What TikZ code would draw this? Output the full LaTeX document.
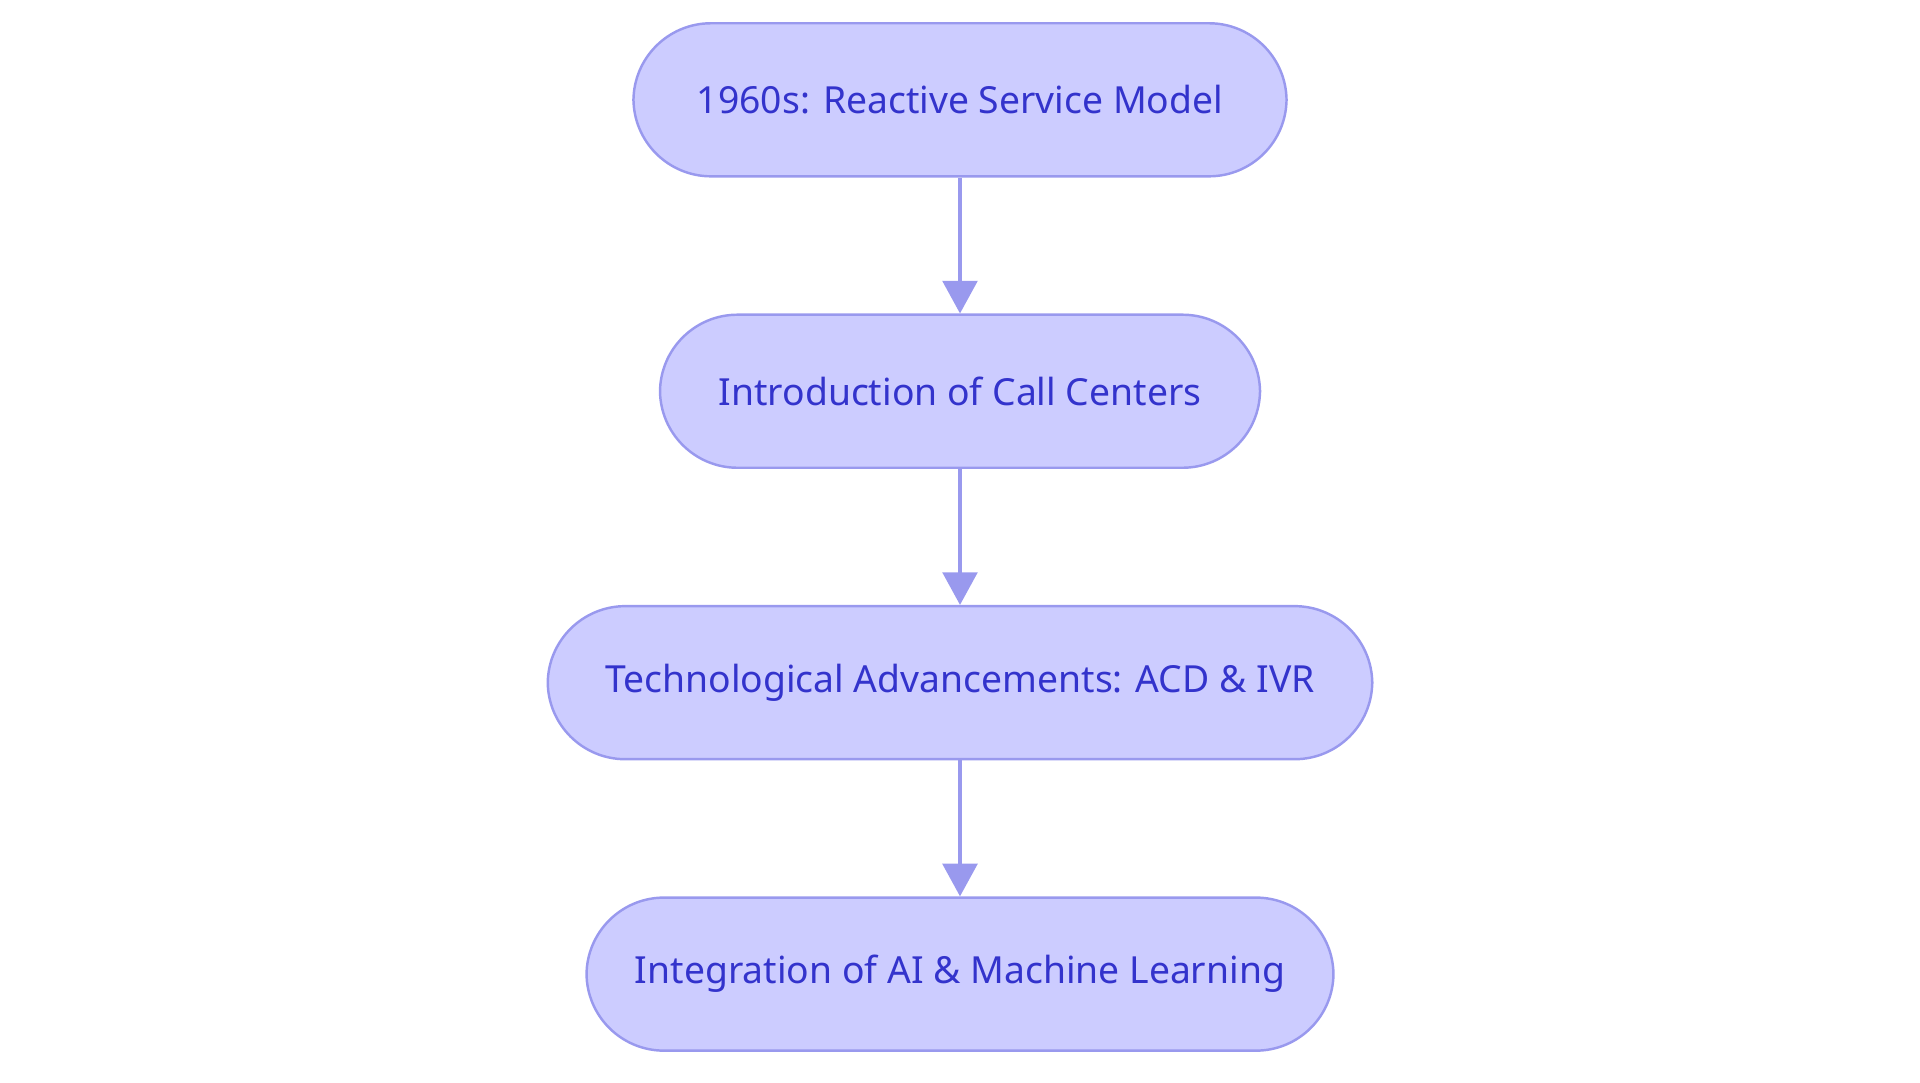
\documentclass[tikz,border=0pt]{standalone}
\usepackage{fontspec}
\setmainfont{Noto Sans}
\definecolor{StepFill}{RGB}{204, 204, 255}
\definecolor{StepLine}{RGB}{153, 153, 238}
\definecolor{StepText}{RGB}{51, 51, 204}
\usetikzlibrary{arrows.meta, positioning}

\begin{document}
\begin{tikzpicture}[
        x=0.03cm, y=0.03cm,
        node distance=3.33cm,
        step/.style={rectangle, draw=StepLine, fill=StepFill, line width=0.06cm, text=StepText,
            rounded corners=1.9cm, minimum height=3.75cm, minimum width=#1, font=\fontsize{26}{31}\selectfont},
        line/.style={draw=StepLine, line width=0.09cm, -{Triangle[length=0.8cm, width=0.85cm]}}
    ]
        \useasboundingbox (0,0) rectangle (1568,884);
        \node [step=16cm] (s1) at (784,802.5) {1960s: Reactive Service Model};
        \node [step=14.7cm, below=of s1] (s2) {Introduction of Call Centers};
        \node [step=20.2cm, below=of s2] (s3) {Technological Advancements: ACD \& IVR};
        \node [step=18.3cm, below=of s3] (s4) {Integration of AI \& Machine Learning};

        \path [line] (s1) -- (s2);
        \path [line] (s2) -- (s3);
        \path [line] (s3) -- (s4);
    \end{tikzpicture}
\end{document}
